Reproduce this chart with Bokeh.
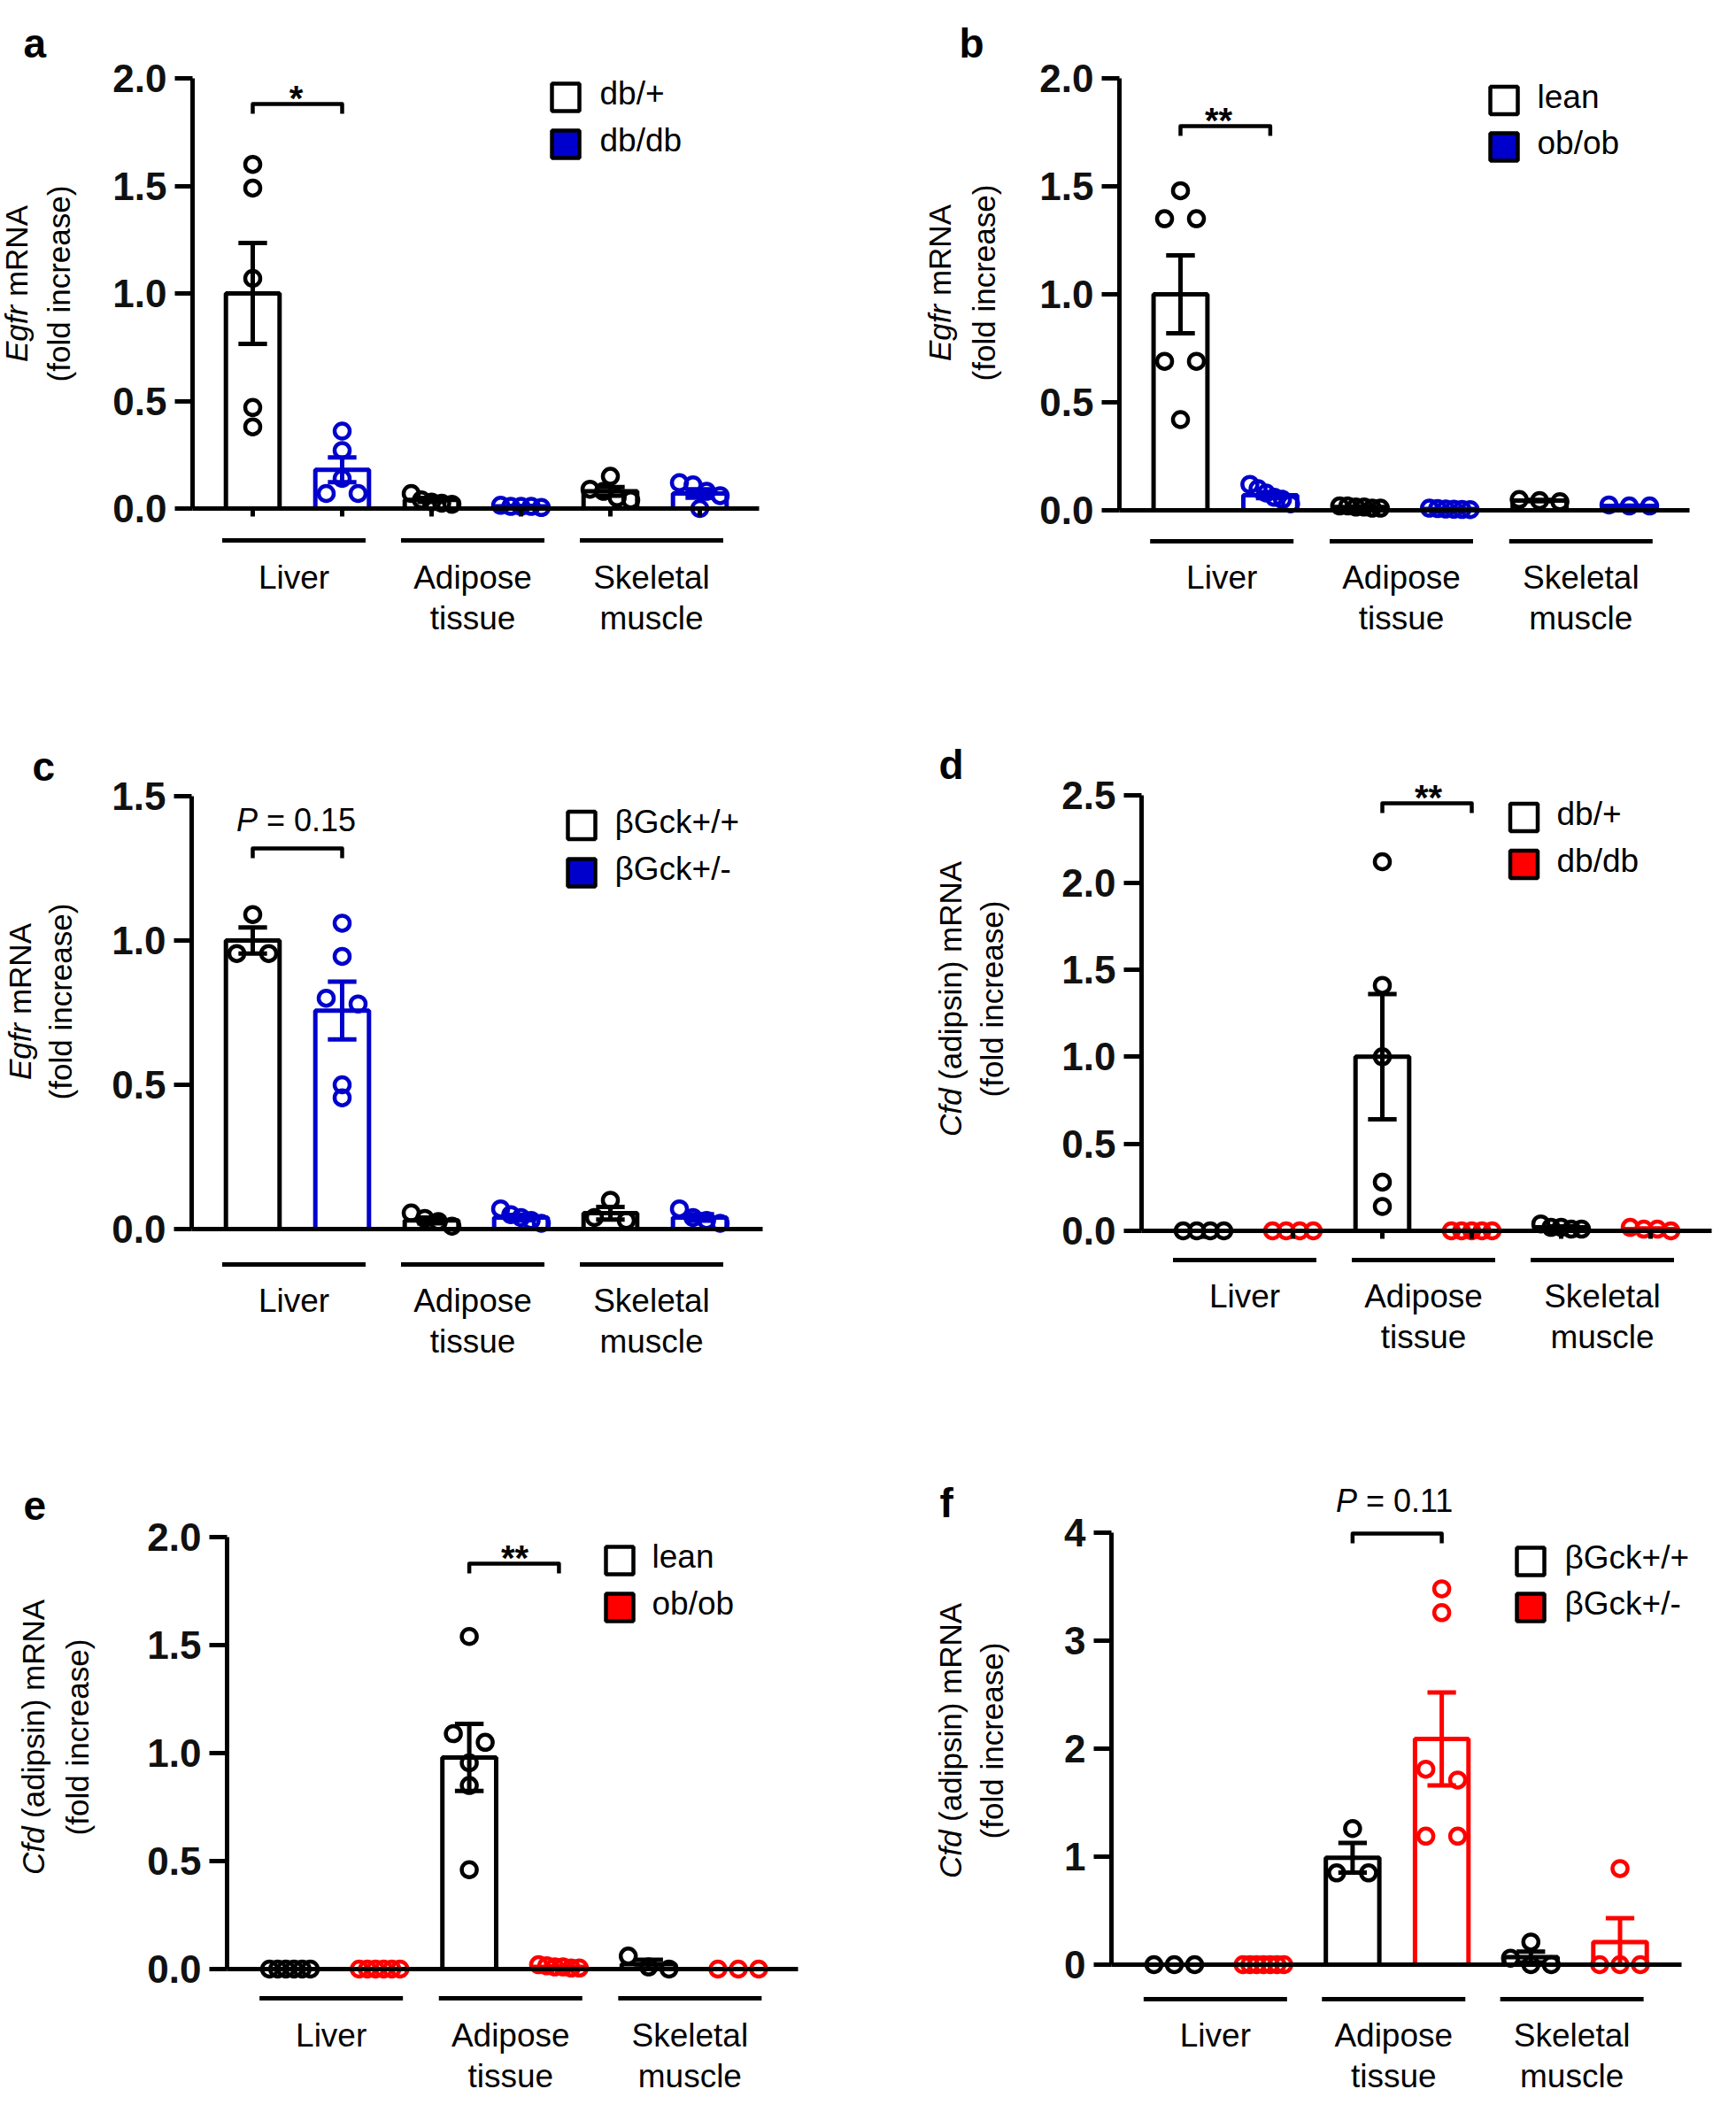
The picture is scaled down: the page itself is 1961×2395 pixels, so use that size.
import math
from bokeh.plotting import figure
from bokeh.models import Range1d, FixedTicker, NumeralTickFormatter
from bokeh.layouts import column, row
from bokeh.embed import file_html
from bokeh.resources import INLINE
from bokeh.core.properties import value

FONT = "Liberation Sans"
BLACK = "#000000"
BLUE = "#0000CC"
RED = "#FF0000"
NB = "\u00a0"
BSHIFT = 0.36  # renderer places alphabetic baseline ~0.36em lower; compensate

tissue_lines = [["Liver"], ["Adipose", "tissue"], ["Skeletal", "muscle"]]

# ---------------- data ----------------
a_legend = ["db/+", "db/db"]
a_ctrl_mean = [1.00, 0.04, 0.08]
a_ctrl_sem = [0.235, 0.009, 0.02]
a_mut_mean = [0.18, 0.01, 0.07]
a_mut_sem = [0.058, 0.002, 0.02]
a_ctrl_pts = [[1.60, 1.49, 1.07, 0.47, 0.38], [0.07, 0.04, 0.03, 0.025, 0.02], [0.15, 0.09, 0.08, 0.05, 0.04]]
a_mut_pts = [[0.36, 0.27, 0.14, 0.07, 0.07], [0.015, 0.01, 0.01, 0.01, 0.005], [0.12, 0.11, 0.08, 0.06, 0.0]]
a_yticks = [0.0, 0.5, 1.0, 1.5, 2.0]

b_legend = ["lean", "ob/ob"]
b_ctrl_mean = [1.00, 0.015, 0.045]
b_ctrl_sem = [0.18, 0.002, 0.003]
b_mut_mean = [0.07, 0.006, 0.02]
b_mut_sem = [0.014, 0.001, 0.002]
b_ctrl_pts = [[1.48, 1.35, 1.35, 0.69, 0.69, 0.42], [0.02, 0.02, 0.015, 0.015, 0.01, 0.01], [0.05, 0.045, 0.04]]
b_mut_pts = [[0.12, 0.10, 0.08, 0.06, 0.05, 0.03], [0.01, 0.008, 0.006, 0.005, 0.004, 0.003], [0.025, 0.02, 0.02]]
b_yticks = [0.0, 0.5, 1.0, 1.5, 2.0]

c_legend = ["βGck+/+", "βGck+/-"]
c_ctrl_mean = [1.00, 0.03, 0.055]
c_ctrl_sem = [0.045, 0.01, 0.022]
c_mut_mean = [0.757, 0.04, 0.04]
c_mut_sem = [0.10, 0.009, 0.011]
c_ctrl_pts = [[1.09, 0.955, 0.955], [0.056, 0.037, 0.026, 0.01], [0.10, 0.04, 0.03]]
c_mut_pts = [[1.06, 0.945, 0.80, 0.78, 0.50, 0.455], [0.07, 0.05, 0.04, 0.03, 0.02], [0.07, 0.04, 0.03, 0.02]]
c_yticks = [0.0, 0.5, 1.0, 1.5]

d_legend = ["db/+", "db/db"]
d_ctrl_mean = [0.0, 1.00, 0.02]
d_ctrl_sem = [0.0, 0.36, 0.006]
d_mut_mean = [0.0, 0.0, 0.01]
d_mut_sem = [0.0, 0.0, 0.004]
d_ctrl_pts = [[0.0, 0.0, 0.0, 0.0], [2.12, 1.41, 1.00, 0.28, 0.14], [0.04, 0.02, 0.02, 0.01, 0.01]]
d_mut_pts = [[0.0, 0.0, 0.0, 0.0], [0.0, 0.0, 0.0, 0.0, 0.0], [0.02, 0.01, 0.01, 0.0]]
d_yticks = [0.0, 0.5, 1.0, 1.5, 2.0, 2.5]

e_legend = ["lean", "ob/ob"]
e_ctrl_mean = [0.0, 0.98, 0.023]
e_ctrl_sem = [0.0, 0.155, 0.02]
e_mut_mean = [0.0, 0.01, 0.0]
e_mut_sem = [0.0, 0.002, 0.0]
e_ctrl_pts = [[0.0, 0.0, 0.0, 0.0, 0.0, 0.0], [1.54, 1.09, 1.05, 0.955, 0.85, 0.46], [0.06, 0.01, 0.0]]
e_mut_pts = [[0.0, 0.0, 0.0, 0.0, 0.0, 0.0], [0.02, 0.015, 0.01, 0.01, 0.005, 0.005], [0.0, 0.0, 0.0]]
e_yticks = [0.0, 0.5, 1.0, 1.5, 2.0]

f_legend = ["βGck+/+", "βGck+/-"]
f_ctrl_mean = [0.0, 0.99, 0.07]
f_ctrl_sem = [0.0, 0.137, 0.05]
f_mut_mean = [0.0, 2.09, 0.21]
f_mut_sem = [0.0, 0.43, 0.22]
f_ctrl_pts = [[0.0, 0.0, 0.0], [1.26, 0.85, 0.85], [0.21, 0.06, 0.0, 0.0]]
f_mut_pts = [[0.0, 0.0, 0.0, 0.0, 0.0, 0.0, 0.0], [3.48, 3.26, 1.81, 1.71, 1.19, 1.19], [0.89, 0.0, 0.0, 0.0]]
f_yticks = [0, 1, 2, 3, 4]

# ---------------- layout helpers ----------------
CW = {' ': 0.278, NB: 0.278, '(': 0.333, ')': 0.333, 'a': 0.556, 'd': 0.556, 'i': 0.222,
      'p': 0.556, 's': 0.5, 'n': 0.556, 'm': 0.833, 'R': 0.722, 'N': 0.722, 'A': 0.667,
      'E': 0.667, 'g': 0.556, 'f': 0.278, 'r': 0.333, 'C': 0.722, 'P': 0.667, '=': 0.584,
      '0': 0.556, '.': 0.278, '1': 0.556, '5': 0.556, 'l': 0.222, 'o': 0.556, 'c': 0.5,
      'e': 0.556}


def tw(s, fs):
    return sum(CW.get(ch, 0.556) for ch in s) * fs


def swarm(vals, k):
    order = sorted(range(len(vals)), key=lambda i: -vals[i])
    offs = [0.0] * len(vals)
    clusters, cur = [], [order[0]]
    for i in order[1:]:
        if abs(vals[cur[-1]] - vals[i]) * k < 14:
            cur.append(i)
        else:
            clusters.append(cur)
            cur = [i]
    clusters.append(cur)
    for c in clusters:
        n = len(c)
        if n == 1:
            continue
        sp = min(36.0, 46.0 / (n - 1))
        for j, i in enumerate(c):
            offs[i] = (j - (n - 1) / 2.0) * sp
    return offs


def build(cfg, legend, ctrl_mean, ctrl_sem, mut_mean, mut_sem, ctrl_pts, mut_pts, yticks, mcol):
    x0, y0, W, H = cfg["box"]
    c0, s, Y0, k = cfg["map"]
    X = lambda px: (px - c0) / s
    Y = lambda py: (Y0 - py) / k
    BL = lambda py, fs: Y(py - BSHIFT * fs)        # horizontal text baseline
    BLX = lambda px, fs: X(px - BSHIFT * fs)       # rotated text baseline
    p = figure(width=W, height=H, x_range=Range1d(X(x0), X(x0 + W)),
               y_range=Range1d(Y(y0 + H), Y(y0)), output_backend="svg",
               toolbar_location=None, min_border=0)
    p.outline_line_color = None
    p.grid.visible = False
    p.background_fill_color = "white"
    p.border_fill_color = "white"

    # axes
    yax = p.yaxis[0]
    yax.fixed_location = X(cfg["yax"])
    yax.ticker = FixedTicker(ticks=yticks)
    yax.bounds = (0, yticks[-1])
    yax.formatter = NumeralTickFormatter(format=cfg["fmt"])
    yax.axis_line_width = 5
    yax.major_tick_line_width = 5
    yax.major_tick_out = 20
    yax.major_tick_in = 0
    yax.minor_tick_line_color = None
    yax.major_label_text_font = FONT
    yax.major_label_text_font_style = "bold"
    yax.major_label_text_font_size = "44px"
    yax.major_label_text_color = "#111111"
    yax.major_label_standoff = 9

    xax = p.xaxis[0]
    xax.fixed_location = 0
    xax.ticker = FixedTicker(ticks=list(range(6)) if cfg["xticks"] else [])
    xax.bounds = (X(cfg["yax"]), X(cfg["xend"]))
    xax.axis_line_width = 5
    xax.major_tick_line_width = 5
    xax.major_tick_out = 9
    xax.major_tick_in = 0
    xax.minor_tick_line_color = None
    xax.major_label_text_color = None

    # bars, error bars, individual points
    xs_c = [2 * t for t in range(3)]
    xs_m = [2 * t + 1 for t in range(3)]
    for xs, means, sems, pts, col in ((xs_c, ctrl_mean, ctrl_sem, ctrl_pts, BLACK),
                                       (xs_m, mut_mean, mut_sem, mut_pts, mcol)):
        p.vbar(x=xs, top=means, bottom=0, width=0.6, fill_color="white",
               line_color=col, line_width=5)
        ex, elo, ehi = [], [], []
        for xx, m, se in zip(xs, means, sems):
            if se > 0:
                ex.append(xx)
                elo.append(max(m - se, 0.0))
                ehi.append(m + se)
        if ex:
            p.segment(x0=ex, y0=elo, x1=ex, y1=ehi, line_color=col, line_width=5)
            cap = 0.16
            p.segment(x0=[v - cap for v in ex], y0=ehi, x1=[v + cap for v in ex], y1=ehi,
                      line_color=col, line_width=5)
            p.segment(x0=[v - cap for v in ex], y0=elo, x1=[v + cap for v in ex], y1=elo,
                      line_color=col, line_width=5)
        px, py = [], []
        for xx, vals in zip(xs, pts):
            offs = swarm(vals, k)
            for v, o in zip(vals, offs):
                px.append(xx + o / s)
                py.append(v)
        p.scatter(x=px, y=py, marker="circle", size=17, fill_color=None,
                  line_color=col, line_width=4.5)

    # group underlines and labels
    gcs = [2 * t + 0.5 - 4.0 / s for t in range(3)]
    hw = 81.0 / s
    uy = Y(cfg["ul"])
    p.segment(x0=[g - hw for g in gcs], y0=[uy] * 3, x1=[g + hw for g in gcs], y1=[uy] * 3,
              line_color=BLACK, line_width=5)
    for g, lines in zip(gcs, tissue_lines):
        for j, ln in enumerate(lines):
            p.text(x=[g], y=[BL(cfg["lab"] + 46 * j, 37)], text=[ln], text_font=value(FONT),
                   text_font_size="37px", text_align="center", text_baseline="alphabetic",
                   text_color=BLACK)

    # legend
    lx, ly1, ly2, ltx = cfg["leg"]
    p.rect(x=[X(lx)] * 2, y=[Y(ly1), Y(ly2)], width=31, height=31, width_units="screen",
           height_units="screen", fill_color=["white", mcol], line_color=BLACK, line_width=4.5)
    p.text(x=[X(ltx)] * 2, y=[BL(ly1 + 9, 37), BL(ly2 + 9, 37)], text=legend,
           text_font=value(FONT), text_font_size="37px", text_align="left",
           text_baseline="alphabetic", text_color=BLACK)

    # significance bracket
    i1, i2, btop, bbot = cfg["br"]
    p.line(x=[i1, i1, i2, i2], y=[Y(bbot), Y(btop), Y(btop), Y(bbot)], line_color=BLACK,
           line_width=4.5, line_join="round")
    sig = cfg["sig"]
    if sig[0].startswith("*"):
        p.text(x=[X(sig[1])], y=[BL(sig[2] + 0.58 * 40, 40)], text=[sig[0]],
               text_font=value(FONT), text_font_size="40px", text_font_style="bold",
               text_align="center", text_baseline="alphabetic", text_color=BLACK)
    else:
        fs = 36
        rest = NB + "= " + sig[0]
        total = tw("P" + rest, fs)
        ax = sig[1] - total / 2.0 + tw("P", fs)
        p.text(x=[X(ax)], y=[BL(sig[2], fs)], text=["P"], text_font=value(FONT),
               text_font_size="36px", text_font_style="italic", text_align="right",
               text_baseline="alphabetic", text_color=BLACK)
        p.text(x=[X(ax)], y=[BL(sig[2], fs)], text=[rest], text_font=value(FONT),
               text_font_size="36px", text_align="left", text_baseline="alphabetic",
               text_color=BLACK)

    # panel letter
    let, lxx, lyy = cfg["letter"]
    p.text(x=[X(lxx)], y=[BL(lyy, 46)], text=[let], text_font=value(FONT),
           text_font_size="46px", text_font_style="bold", text_align="left",
           text_baseline="alphabetic", text_color=BLACK)

    # y axis title (rotated, two lines, italic gene symbol)
    ital, rest, b1, b2, cy = cfg["ylab"]
    fs = 35
    total = tw(ital + rest, fs)
    anchor = cy + total / 2.0 - tw(ital, fs)
    ang = math.pi / 2
    p.text(x=[BLX(b1, fs)], y=[Y(anchor)], text=[ital], angle=ang, text_font=value(FONT),
           text_font_size="35px", text_font_style="italic", text_align="right",
           text_baseline="alphabetic", text_color=BLACK)
    p.text(x=[BLX(b1, fs)], y=[Y(anchor)], text=[rest], angle=ang, text_font=value(FONT),
           text_font_size="35px", text_align="left", text_baseline="alphabetic",
           text_color=BLACK)
    p.text(x=[BLX(b2, fs)], y=[Y(cy)], text=["(fold increase)"], angle=ang,
           text_font=value(FONT), text_font_size="35px", text_align="center",
           text_baseline="alphabetic", text_color=BLACK)
    return p


cfg_a = dict(box=(0, 0, 980, 790), map=(285, 101.0, 574, 243.0), yax=217, xend=857, fmt="0.0",
             xticks=True, ul=610, lab=665, leg=(638.5, 109.5, 162.5, 677),
             br=(0, 1, 117, 128), sig=("*", 334, 102), letter=("a", 26, 65),
             ylab=("Egfr", NB + "mRNA", 31, 79, 320))
cfg_b = dict(box=(980, 0, 973, 790), map=(1333, 101.4, 576, 244.0), yax=1264, xend=1908,
             fmt="0.0", xticks=False, ul=611, lab=665, leg=(1698.5, 113, 165.5, 1736),
             br=(0, 1, 142, 153), sig=("**", 1376, 127), letter=("b", 1083, 65),
             ylab=("Egfr", NB + "mRNA", 1074, 1124, 319))
cfg_c = dict(box=(0, 790, 980, 800), map=(285, 101.0, 1388, 326.0), yax=216, xend=861,
             fmt="0.0", xticks=False, ul=1428, lab=1482, leg=(656.5, 932, 985.5, 694),
             br=(0, 1, 958, 969), sig=("0.15", 334, 939), letter=("c", 36, 882),
             ylab=("Egfr", NB + "mRNA", 35, 81, 1131))
cfg_d = dict(box=(980, 790, 973, 800), map=(1359, 101.0, 1390, 196.7), yax=1289, xend=1933,
             fmt="0.0", xticks=True, ul=1423, lab=1477, leg=(1721, 923, 976, 1758),
             br=(2, 3, 907, 918), sig=("**", 1613, 892), letter=("d", 1060, 880),
             ylab=("Cfd", NB + "(adipsin) mRNA", 1086, 1133, 1128))
cfg_e = dict(box=(0, 1590, 980, 797), map=(327, 101.3, 2224, 244.0), yax=256, xend=901,
             fmt="0.0", xticks=False, ul=2257, lab=2312, leg=(699.5, 1762.5, 1815.5, 736),
             br=(2, 3, 1766, 1777), sig=("**", 581, 1751), letter=("e", 26, 1717),
             ylab=("Cfd", NB + "(adipsin) mRNA", 50, 100, 1962))
cfg_f = dict(box=(980, 1590, 973, 797), map=(1326, 100.7, 2219, 122.0), yax=1255, xend=1899,
             fmt="0", xticks=False, ul=2258, lab=2312, leg=(1728.5, 1763.5, 1815.5, 1767),
             br=(2, 3, 1732, 1743), sig=("0.11", 1576, 1708), letter=("f", 1061, 1714),
             ylab=("Cfd", NB + "(adipsin) mRNA", 1086, 1133, 1966))

pa = build(cfg_a, a_legend, a_ctrl_mean, a_ctrl_sem, a_mut_mean, a_mut_sem, a_ctrl_pts, a_mut_pts, a_yticks, BLUE)
pb = build(cfg_b, b_legend, b_ctrl_mean, b_ctrl_sem, b_mut_mean, b_mut_sem, b_ctrl_pts, b_mut_pts, b_yticks, BLUE)
pc = build(cfg_c, c_legend, c_ctrl_mean, c_ctrl_sem, c_mut_mean, c_mut_sem, c_ctrl_pts, c_mut_pts, c_yticks, BLUE)
pd = build(cfg_d, d_legend, d_ctrl_mean, d_ctrl_sem, d_mut_mean, d_mut_sem, d_ctrl_pts, d_mut_pts, d_yticks, RED)
pe = build(cfg_e, e_legend, e_ctrl_mean, e_ctrl_sem, e_mut_mean, e_mut_sem, e_ctrl_pts, e_mut_pts, e_yticks, RED)
pf = build(cfg_f, f_legend, f_ctrl_mean, f_ctrl_sem, f_mut_mean, f_mut_sem, f_ctrl_pts, f_mut_pts, f_yticks, RED)

layout = column(row(pa, pb), row(pc, pd), row(pe, pf))
open("out.html", "w").write(file_html(layout, INLINE))
